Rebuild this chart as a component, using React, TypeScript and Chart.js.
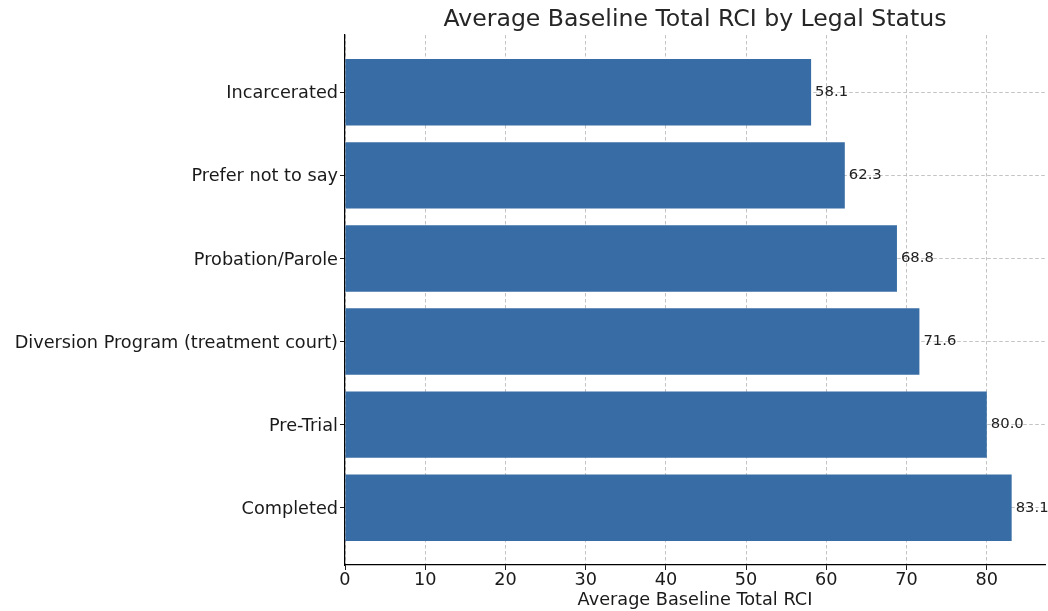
import React, { useEffect, useRef } from "react";
import { Chart, registerables } from "chart.js";

Chart.register(...registerables);

const categories: string[] = [
  "Incarcerated",
  "Prefer not to say",
  "Probation/Parole",
  "Diversion Program (treatment court)",
  "Pre-Trial",
  "Completed",
];
const values: number[] = [58.1, 62.3, 68.8, 71.6, 80.0, 83.1];
const xTicks: number[] = [0, 10, 20, 30, 40, 50, 60, 70, 80];
const chartTitle = "Average Baseline Total RCI by Legal Status";
const xAxisTitle = "Average Baseline Total RCI";

const FONT = "'DejaVu Sans', sans-serif";
const TEXT = "#1a1a1a";
const BAR = "#376ca4";
const GRID = "rgba(176,176,176,0.85)";

export default function App() {
  const ref = useRef<HTMLCanvasElement | null>(null);

  useEffect(() => {
    document.body.style.margin = "0";
    const canvas = ref.current;
    if (!canvas) return;

    const titlePlugin = {
      id: "customTitle",
      afterDraw(chart: any) {
        const { ctx, chartArea } = chart;
        ctx.save();
        ctx.font = `23.6px ${FONT}`;
        ctx.fillStyle = "#262626";
        ctx.textAlign = "center";
        ctx.textBaseline = "middle";
        ctx.fillText(chartTitle, (chartArea.left + chartArea.right) / 2, 20);
        ctx.restore();
      },
    };

    const valueLabels = {
      id: "valueLabels",
      afterDraw(chart: any) {
        const { ctx } = chart;
        const meta = chart.getDatasetMeta(0);
        ctx.save();
        ctx.font = `14.8px ${FONT}`;
        ctx.fillStyle = "#222";
        ctx.textAlign = "left";
        ctx.textBaseline = "middle";
        meta.data.forEach((bar: any, i: number) => {
          ctx.fillText(values[i].toFixed(1), bar.x + 4, bar.y);
        });
        ctx.restore();
      },
    };

    const chart = new Chart(canvas, {
      type: "bar",
      data: {
        datasets: [
          {
            data: values.map((v, i) => ({ x: v, y: i })),
            backgroundColor: BAR,
            borderWidth: 0,
            categoryPercentage: 0.8,
            barPercentage: 1,
          },
        ],
      },
      options: {
        indexAxis: "y",
        animation: false,
        responsive: true,
        maintainAspectRatio: false,
        layout: { padding: { top: 35, right: 3, left: 0, bottom: 0 } },
        plugins: {
          legend: { display: false },
          title: { display: false },
          tooltip: { enabled: false },
        },
        scales: {
          x: {
            type: "linear",
            position: "bottom",
            min: 0,
            max: 87.255,
            offset: false,
            z: 1,
            afterBuildTicks: (scale: any) => {
              scale.ticks = xTicks.map((v) => ({ value: v }));
            },
            afterFit: (scale: any) => {
              scale.height = 46;
            },
            ticks: {
              font: { family: FONT, size: 17.7 },
              color: TEXT,
              padding: 0,
              maxRotation: 0,
              callback: (v: any) => String(v),
            },
            grid: {
              offset: false,
              color: GRID,
              lineWidth: 0.9,
              drawTicks: true,
              tickLength: 5,
              tickColor: TEXT,
              tickWidth: 1,
              tickBorderDash: [],
            },
            border: { display: true, color: "#000", width: 1.25, dash: [3.5, 2.5] },
            title: {
              display: true,
              text: xAxisTitle,
              font: { family: FONT, size: 17.7 },
              color: TEXT,
              padding: { top: 0, bottom: 0 },
            },
          },
          y: {
            type: "linear",
            position: "left",
            min: -0.69,
            max: 5.69,
            reverse: true,
            offset: false,
            z: 1,
            afterBuildTicks: (scale: any) => {
              scale.ticks = categories.map((_, i) => ({ value: i }));
            },
            afterFit: (scale: any) => {
              scale.width = 345;
            },
            ticks: {
              font: { family: FONT, size: 17.7 },
              color: TEXT,
              padding: 2,
              labelOffset: 1.5,
              callback: (v: any) => categories[v as number] ?? "",
            },
            grid: {
              offset: false,
              color: GRID,
              lineWidth: 0.9,
              drawTicks: true,
              tickLength: 5,
              tickColor: TEXT,
              tickWidth: 1,
              tickBorderDash: [],
            },
            border: { display: true, color: "#000", width: 1.25, dash: [3.5, 2.5] },
          },
        },
      },
      plugins: [titlePlugin, valueLabels],
    });

    return () => chart.destroy();
  }, []);

  return (
    <div style={{ width: 1048, height: 611, position: "relative" }}>
      <canvas ref={ref} />
    </div>
  );
}
